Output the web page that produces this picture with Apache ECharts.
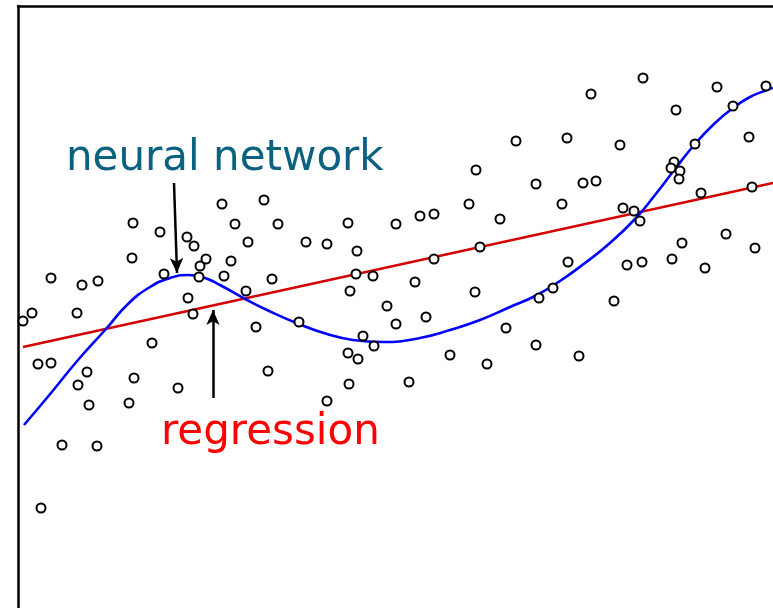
<!DOCTYPE html>
<html>
<head>
<meta charset="utf-8">
<script src="https://cdn.jsdelivr.net/npm/echarts@6/dist/echarts.min.js"></script>
<style>
html,body{margin:0;padding:0;background:#fff;}
#chart{width:773px;height:608px;}
</style>
</head>
<body>
<div id="chart"></div>
<script>
// Observed samples (x, y) in chart units
const samplesX = [458,625,573,699,748,658,715,498,549,602,731,677,656,653,662,661,518,565,578,683,734,544,605,616,622,708,664,737,550,609,624,654,687,535,521,596,488,518,561,246,260,330,378,402,416,451,482,230,288,309,339,462,416,254,338,355,397,332,457,228,369,408,281,378,238,345,356,330,340,432,469,250,331,391,309,204,115,142,169,176,217,114,188,182,213,146,181,206,33,64,80,170,175,14,5,59,134,20,33,69,116,60,160,71,111,44,79,23];
const samplesY = [438,530,514,521,522,498,502,467,470,463,471,464,446,440,437,429,424,425,427,415,421,404,400,397,387,374,365,360,346,343,346,349,340,320,310,307,280,263,252,408,384,385,384,392,394,404,389,366,366,364,357,361,349,329,334,332,326,317,316,317,302,291,286,284,281,272,262,255,249,253,244,237,224,226,207,404,385,376,371,362,384,350,349,342,347,334,331,332,330,323,327,310,294,295,287,295,265,244,245,236,230,223,220,203,205,163,162,100];

// Neural network fit
const nnX = [6,33,60,88,110,132,152,170,187,202,229,249,281,309,335,365,402,432,462,492,517,542,567,592,617,637,657,677,696,715,732,749,755];
const nnY = [183,215,248,279,304,321,330,333,330,323,308,298,284,274,268,266,270,278,288,301,312,327,345,365,389,413,439,464,484,500,511,518,520];

// Linear regression fit (end points)
const regX = [5,755];
const regY = [261,425];

// Annotation arrows: [fromX, fromY, toX, toY]
const nnArrow = [156,425,159,335];
const regArrow = [195,210,195,298];

const labels = ['neural network','regression'];

const chart = echarts.init(document.getElementById('chart'), null, {renderer:'canvas'});

const scatterData = samplesX.map((x,i)=>[x, samplesY[i]]);
const nnData = nnX.map((x,i)=>[x, nnY[i]]);
const regData = regX.map((x,i)=>[x, regY[i]]);

const frameAxis = {
  axisLine:{show:true, onZero:false, lineStyle:{color:'#000', width:2.5}},
  axisTick:{show:false}, axisLabel:{show:false}, splitLine:{show:false}
};

chart.setOption({
  backgroundColor:'#ffffff',
  animation:false,
  grid:{left:18, top:6, right:-10, bottom:-20, outerBoundsMode:'none', containLabel:false, show:false},
  xAxis:Object.assign({type:'value', min:0, max:765, position:'top'}, frameAxis),
  yAxis:Object.assign({type:'value', min:-20, max:602, position:'left'}, frameAxis),
  graphic:[
    {type:'text', left:66, top:138, style:{text:labels[0], font:'42px "DejaVu Sans"', fill:'#0b6180'}},
    {type:'text', left:161, top:412, style:{text:labels[1], font:'42px "DejaVu Sans"', fill:'#ff0000'}}
  ],
  series:[
    {type:'line', data:regData, symbol:'none', lineStyle:{color:'#d40000', width:2.6}, z:2},
    {type:'line', data:nnData, smooth:0.5, symbol:'none', lineStyle:{color:'#0000ff', width:2.6}, z:2},
    {type:'scatter', data:scatterData, symbol:'emptyCircle', symbolSize:9,
     itemStyle:{color:'#000', borderColor:'#000', borderWidth:2.5, opacity:1}, z:3,
     markLine:{silent:true, symbol:['none','arrow'], symbolSize:[10,15], label:{show:false},
       lineStyle:{color:'#000', width:2.5, type:'solid', opacity:1},
       data:[
         [{coord:[nnArrow[0],nnArrow[1]]},{coord:[nnArrow[2],nnArrow[3]]}],
         [{coord:[regArrow[0],regArrow[1]]},{coord:[regArrow[2],regArrow[3]]}]
       ]}
    }
  ]
});
</script>
</body>
</html>
